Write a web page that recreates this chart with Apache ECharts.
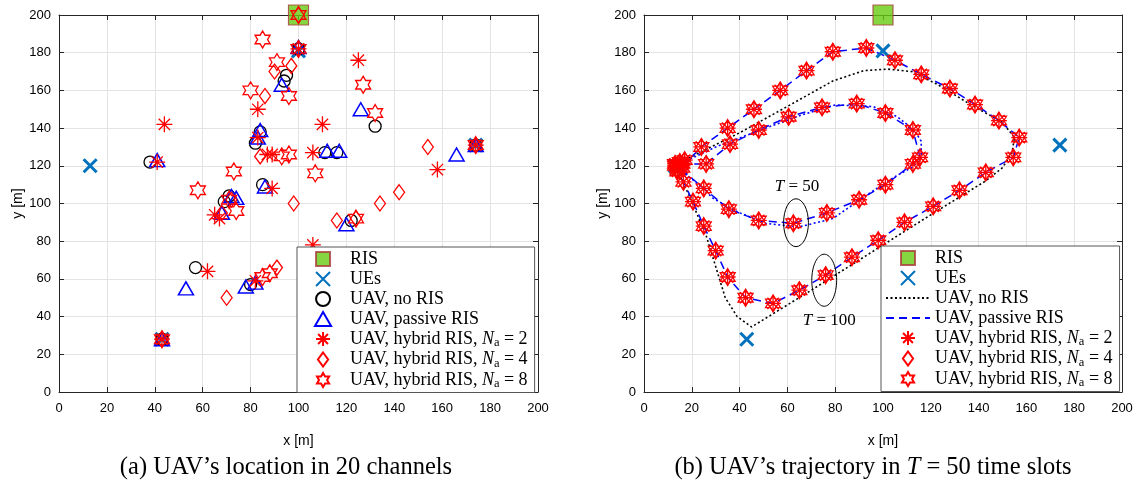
<!DOCTYPE html>
<html>
<head>
<meta charset="utf-8">
<script src="https://cdn.jsdelivr.net/npm/echarts@6/dist/echarts.min.js"></script>
<style>
  html, body { margin: 0; padding: 0; background: #fff; }
  #chart { width: 1135px; height: 485px; }
</style>
</head>
<body>
<div id="chart"></div>
<script>
// tick labels shared by both axes of both panels
const ticks = [0, 20, 40, 60, 80, 100, 120, 140, 160, 180, 200];

// (a) UAV location in 20 channels
const risPos = [[100, 200]];
const uePos = [[13, 120], [100, 181], [174, 131], [43, 28]];
const aNoRis = [[38, 122], [100, 182], [95, 168], [94, 165], [84, 138], [82, 132], [85, 110], [71, 104], [69, 101],
  [57, 66], [80, 57], [111, 127], [116, 127], [132, 141], [122, 91], [174, 131], [43, 28]];
const aPassive = [[41, 123], [100, 183], [93, 163], [84, 139], [83, 135], [86, 109], [72, 104], [74, 103], [68, 95],
  [53, 55], [78, 56], [82, 58], [112, 128], [117, 128], [126, 150], [166, 126], [120, 89], [174, 131], [43, 28]];
const aHybrid2 = [[44, 142], [41, 122], [100, 182], [83, 150], [125, 176], [110, 142], [83, 135], [87, 126], [89, 126],
  [106, 127], [89, 108], [65, 94], [67, 92], [62, 64], [82, 59], [106, 78], [158, 118], [174, 131], [43, 28]];
const aHybrid4 = [[100, 200], [90, 170], [97, 173], [86, 157], [84, 125], [98, 100], [68, 95], [72, 102], [116, 91],
  [124, 92], [134, 100], [142, 106], [154, 130], [70, 50], [91, 66], [174, 131], [43, 28]];
const aHybrid8 = [[100, 200], [85, 187], [91, 175], [80, 160], [96, 157], [127, 163], [132, 148], [93, 125], [96, 126],
  [107, 116], [73, 117], [58, 107], [74, 96], [71, 102], [85, 61], [88, 63], [124, 92], [100, 182], [174, 131], [43, 28]];

// (b) trajectories, T = 100 (outer loop) and T = 50 (inner loop)
const bNoRis100 = [[13, 120], [19, 104], [26, 83], [34, 50], [39, 40], [45, 34.5], [70, 54], [95, 74], [120, 94],
  [143, 112], [150, 119], [154, 127], [155, 135], [150, 143], [136, 153], [123, 163], [112, 170], [102, 171.3],
  [92, 170.5], [79, 165], [60, 151.5], [40, 137.5], [20, 125], [13, 120]];
const bNoRis50 = [[11, 118], [20, 124], [30, 130], [52, 140.5], [66, 147], [80, 152.3], [96, 151.4], [106, 146],
  [113, 139], [116, 133], [116, 124], [112, 119], [106, 115], [95, 106], [79, 92], [65, 87.6], [51, 89.4],
  [39, 95.6], [29, 102.7], [21, 112], [14, 119]];
const bHybrid100 = [[13, 120], [15, 122], [16, 119], [14, 117], [24, 130], [35, 140], [46, 150], [57, 160],
  [68, 170.5], [79, 180.5], [93, 182.5], [105, 176], [116, 168.5], [128, 161], [138.5, 152.5], [148.5, 144],
  [157, 135], [154.5, 124.5], [143, 116.5], [132, 107], [121, 98.5], [109, 90], [98, 80.5], [87, 71.5], [76, 62],
  [65, 54], [54, 47], [42.5, 50], [35, 61], [30, 75], [25, 88], [20.5, 101], [16.5, 111.5], [14, 118]];
const bHybrid50 = [[15, 120], [17, 123], [13, 121], [25, 108], [35.5, 97], [48, 91], [62.5, 89.5], [76.5, 95],
  [90, 102], [101, 110], [112.5, 121], [115.5, 124.5], [112.5, 139], [101, 148], [89, 153], [74.5, 151],
  [60.5, 146], [48, 139], [36, 131.5], [26, 121], [16, 121]];
const bPassive100 = bHybrid100;
const bPassive50 = bHybrid50;

// ellipse annotations: [x, y, half width, half height] and their labels [x, y, T]
const ellipses = [[63.6, 89.8, 5.2, 12.7], [75.4, 59.3, 5.2, 13.8]];
const ellipseLabels = [[64, 109, 50], [77.5, 38, 100]];

const symAsterisk = 'path://M0,-10L0,10M-10,0L10,0M-7.07,-7.07L7.07,7.07M-7.07,7.07L7.07,-7.07';
const symHexagram = 'path://M0,-10L2.89,-5L8.66,-5L5.77,0L8.66,5L2.89,5L0,10L-2.89,5L-8.66,5L-5.77,0L-8.66,-5L-2.89,-5Z';
const symCross = 'path://M-10,-10L10,10M-10,10L10,-10';
const symDiamond = 'path://M0,-10L7.3,0L0,10L-7.3,0Z';
const symTriangle = 'path://M0,-10L11.5,10L-11.5,10Z';
const symSquare = 'path://M0,0L10,0L10,10L0,10Z';

const RED = '#ff0000', BLUE = '#0000ff', UE_BLUE = '#0072bd';
const serif = 'Liberation Serif';

const labels = {
  aRIS: 'RIS', bRIS: 'RIS', aUE: 'UEs', bUE: 'UEs',
  aNo: 'UAV, no RIS', bNo: 'UAV, no RIS',
  aPas: 'UAV, passive RIS', bPas: 'UAV, passive RIS',
  aH2: 'UAV, hybrid RIS, {n|N}{s|a} = 2', bH2: 'UAV, hybrid RIS, {n|N}{s|a} = 2',
  aH4: 'UAV, hybrid RIS, {n|N}{s|a} = 4', bH4: 'UAV, hybrid RIS, {n|N}{s|a} = 4',
  aH8: 'UAV, hybrid RIS, {n|N}{s|a} = 8', bH8: 'UAV, hybrid RIS, {n|N}{s|a} = 8'
};

function marks(name, data, g, symbol, size, color, width) {
  return {
    name: name, type: 'scatter', xAxisIndex: g * 2, yAxisIndex: g * 2, data: data,
    symbol: symbol, symbolSize: size, clip: false, z: 3,
    itemStyle: { color: 'transparent', borderColor: color, borderWidth: width, opacity: 1 },
    emphasis: { disabled: true }
  };
}

function path(name, data, color, dash, width) {
  return {
    name: name, type: 'line', xAxisIndex: 2, yAxisIndex: 2, data: data,
    symbol: 'none', smooth: false, clip: false, z: 2,
    lineStyle: { color: color, width: width, type: dash },
    itemStyle: { color: 'transparent', borderColor: 'transparent', borderWidth: 0 },
    emphasis: { disabled: true }
  };
}

function risMarks(name, g) {
  return {
    name: name, type: 'scatter', xAxisIndex: g * 2, yAxisIndex: g * 2, data: risPos,
    symbol: symSquare, symbolSize: 20, clip: false, z: 3,
    itemStyle: { color: '#66cc11', borderColor: '#a83a3a', borderWidth: 1.2 },
    emphasis: { disabled: true }
  };
}

function ueMarks(name, g) {
  return marks(name, uePos, g, symCross, 13, UE_BLUE, 3);
}

function xAxes(g) {
  return [{
    gridIndex: g, type: 'value', position: 'bottom',
    min: ticks[0], max: ticks[ticks.length - 1], interval: ticks[1] - ticks[0],
    name: 'x [m]', nameLocation: 'middle', nameGap: 42,
    nameTextStyle: { fontFamily: 'Liberation Sans', fontSize: 14, color: '#000' },
    axisLine: { show: true, onZero: false, lineStyle: { color: '#262626', width: 1 } },
    axisTick: { show: true, inside: true, length: 5, lineStyle: { color: '#262626' } },
    axisLabel: { show: true, color: '#000', fontFamily: 'Liberation Sans', fontSize: 13, margin: 10 },
    splitLine: { show: true, lineStyle: { color: '#e3e3e3', width: 1 } }
  }, {
    gridIndex: g, type: 'value', position: 'top',
    min: ticks[0], max: ticks[ticks.length - 1], interval: ticks[1] - ticks[0],
    axisLine: { show: true, onZero: false, lineStyle: { color: '#262626', width: 1 } },
    axisTick: { show: true, inside: true, length: 5, lineStyle: { color: '#262626' } },
    axisLabel: { show: false }, splitLine: { show: false }
  }];
}

function yAxes(g) {
  return [{
    gridIndex: g, type: 'value', position: 'left',
    min: ticks[0], max: ticks[ticks.length - 1], interval: ticks[1] - ticks[0],
    name: 'y [m]', nameLocation: 'middle', nameGap: 28,
    nameTextStyle: { fontFamily: 'Liberation Sans', fontSize: 14, color: '#000' },
    axisLine: { show: true, onZero: false, lineStyle: { color: '#262626', width: 1 } },
    axisTick: { show: true, inside: true, length: 5, lineStyle: { color: '#262626' } },
    axisLabel: { show: true, color: '#000', fontFamily: 'Liberation Sans', fontSize: 13, margin: 8 },
    splitLine: { show: true, lineStyle: { color: '#e3e3e3', width: 1 } }
  }, {
    gridIndex: g, type: 'value', position: 'right',
    min: ticks[0], max: ticks[ticks.length - 1], interval: ticks[1] - ticks[0],
    axisLine: { show: true, onZero: false, lineStyle: { color: '#262626', width: 1 } },
    axisTick: { show: true, inside: true, length: 5, lineStyle: { color: '#262626' } },
    axisLabel: { show: false }, splitLine: { show: false }
  }];
}

function legendBox(left, top, names, padLeft) {
  return {
    left: left, top: top, orient: 'vertical', data: names,
    itemWidth: 44, itemHeight: 14, itemGap: 0, padding: [2, 7, 2, padLeft],
    borderColor: '#555', borderWidth: 1, borderRadius: 0, backgroundColor: '#fff',
    selectedMode: false, z: 10, symbolKeepAspect: true,
    formatter: function (name) { return labels[name]; },
    textStyle: {
      fontFamily: serif, fontSize: 18, color: '#000', lineHeight: 20,
      rich: {
        n: { fontFamily: serif, fontSize: 18, fontStyle: 'italic', color: '#000' },
        s: { fontFamily: serif, fontSize: 12.5, color: '#000', padding: [8, 0, 0, 0] }
      }
    }
  };
}

const chart = echarts.init(document.getElementById('chart'), null, { renderer: 'canvas' });

const option = {
  animation: false,
  backgroundColor: '#fff',
  grid: [
    { left: 59, top: 15, width: 479, height: 377, outerBoundsMode: 'none' },
    { left: 644, top: 15, width: 478, height: 377, outerBoundsMode: 'none' }
  ],
  xAxis: xAxes(0).concat(xAxes(1)),
  yAxis: yAxes(0).concat(yAxes(1)),
  legend: [
    legendBox(297, 247, ['aRIS', 'aUE', 'aNo', 'aPas', 'aH2', 'aH4', 'aH8'], 17),
    legendBox(881, 246, ['bRIS', 'bUE', 'bNo', 'bPas', 'bH2', 'bH4', 'bH8'], 4)
  ],
  graphic: [
    { type: 'text', x: 286, y: 468, z: 10,
      style: { text: '(a) UAV\u2019s location in 20 channels', fontFamily: serif, fontSize: 24.5, fill: '#000',
        align: 'center', verticalAlign: 'middle' } },
    { type: 'text', x: 873, y: 468, z: 10,
      style: { text: '(b) UAV\u2019s trajectory in {i|T} = 50 time slots', fontFamily: serif, fontSize: 24.5, fill: '#000',
        align: 'center', verticalAlign: 'middle',
        rich: { i: { fontFamily: serif, fontSize: 24.5, fontStyle: 'italic' } } } }
  ],
  series: [
    // panel (a)
    risMarks('aRIS', 0),
    ueMarks('aUE', 0),
    marks('aNo', aNoRis, 0, 'circle', 12, '#000', 1.3),
    marks('aPas', aPassive, 0, symTriangle, [15, 13], BLUE, 1.5),
    marks('aH2', aHybrid2, 0, symAsterisk, 16, RED, 1.3),
    marks('aH4', aHybrid4, 0, symDiamond, [11, 15], RED, 1.3),
    marks('aH8', aHybrid8, 0, symHexagram, [15, 17], RED, 1.3),
    // panel (b)
    risMarks('bRIS', 1),
    path('bNo', bNoRis100, '#000', [2, 2.5], 1.6),
    path('bNo50', bNoRis50, BLUE, [2, 2.5], 1.6),
    path('bPas', bPassive100, BLUE, [8, 5], 1.5),
    path('bPas50', bPassive50, BLUE, [8, 5], 1.5),
    ueMarks('bUE', 1),
    marks('bH2', bHybrid100, 1, symAsterisk, 16, RED, 1.3),
    marks('bH2', bHybrid50, 1, symAsterisk, 16, RED, 1.3),
    marks('bH4', bHybrid100, 1, symDiamond, [11, 15], RED, 1.3),
    marks('bH4', bHybrid50, 1, symDiamond, [11, 15], RED, 1.3),
    marks('bH8', bHybrid100, 1, symHexagram, [15, 17], RED, 1.3),
    marks('bH8', bHybrid50, 1, symHexagram, [15, 17], RED, 1.3),
    {
      type: 'custom', xAxisIndex: 2, yAxisIndex: 2, data: ellipses, z: 4, clip: false,
      renderItem: function (params, api) {
        const c = api.coord([api.value(0), api.value(1)]);
        const s = api.size([api.value(2), api.value(3)]);
        return { type: 'ellipse', shape: { cx: c[0], cy: c[1], rx: s[0], ry: s[1] },
          style: { fill: 'none', stroke: '#000', lineWidth: 1 } };
      }
    },
    {
      type: 'custom', xAxisIndex: 2, yAxisIndex: 2, data: ellipseLabels, z: 4, clip: false,
      renderItem: function (params, api) {
        const c = api.coord([api.value(0), api.value(1)]);
        return { type: 'text', x: c[0], y: c[1],
          style: { text: '{i|T} = ' + api.value(2), fontFamily: serif, fontSize: 17, fill: '#000',
            align: 'center', verticalAlign: 'middle',
            rich: { i: { fontFamily: serif, fontSize: 17, fontStyle: 'italic' } } } };
      }
    }
  ]
};

chart.setOption(option);
</script>
</body>
</html>
